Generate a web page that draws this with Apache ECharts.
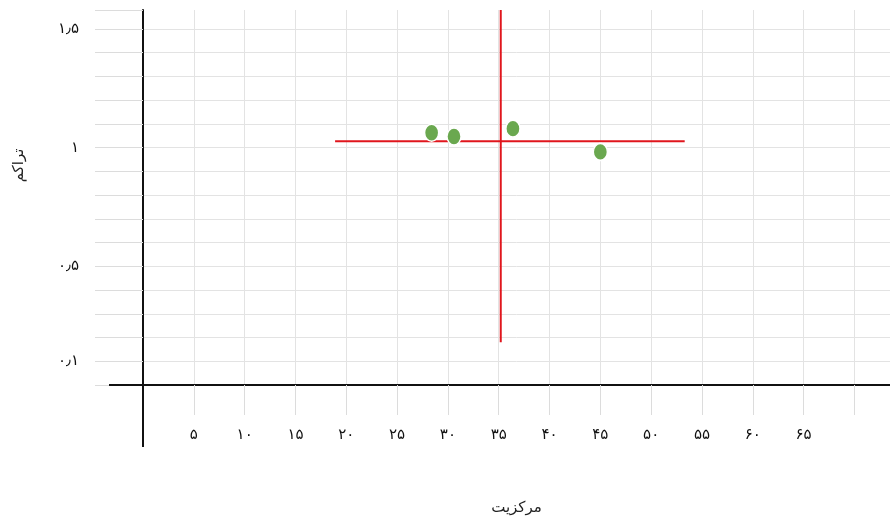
<!DOCTYPE html>
<html>
<head>
<meta charset="utf-8">
<script src="https://cdn.jsdelivr.net/npm/echarts@6/dist/echarts.min.js"></script>
<style>
html, body { margin: 0; padding: 0; background: #fff; }
#chart { width: 890px; height: 524px; }
</style>
</head>
<body>
<div id="chart"></div>
<script>
// نقاط (مرکزیت، تراکم)
var pointsX = [28.4, 30.6, 36.4, 45.0];
var pointsY = [1.063, 1.047, 1.080, 0.982];
// خطوط قرمز میانگین
var crossX = 35.2;
var crossY = 1.027;
var hLineX = [18.9, 53.3];
var vLineY = [0.18, 1.58];
// برچسب محورها
var xLabelValues = [5, 10, 15, 20, 25, 30, 35, 40, 45, 50, 55, 60, 65];
var yLabelValues = [0.1, 0.5, 1, 1.5];

var faDigits = '۰۱۲۳۴۵۶۷۸۹';
function toFa(n) {
	return String(n).replace(/[0-9]/g, function (d) { return faDigits[+d]; }).replace('.', '٫');
}

var scatterData = [];
for (var i = 0; i < pointsX.length; i++) {
	scatterData.push([pointsX[i], pointsY[i]]);
}

var chart = echarts.init(document.getElementById('chart'));
var font = 'DejaVu Sans';
var option = {
	animation: false,
	grid: { left: 143, right: 0, top: 10, bottom: 139, outerBoundsMode: 'none' },
	xAxis: {
		type: 'value',
		min: 0, max: 73.5, interval: 5,
		name: 'مرکزیت',
		nameLocation: 'middle',
		nameGap: 116,
		nameTextStyle: { fontFamily: font, fontSize: 15, color: '#222' },
		axisLine: { lineStyle: { color: '#111', width: 2 } },
		axisTick: { show: true, length: 30, lineStyle: { color: '#dcdcdc' } },
		splitLine: { show: true, showMaxLine: false, lineStyle: { color: '#e3e3e3' } },
		axisLabel: {
			margin: 43, fontFamily: font, fontSize: 15, color: '#111',
			formatter: function (v) {
				return xLabelValues.indexOf(Math.round(v)) >= 0 && Math.abs(v - Math.round(v)) < 1e-6 ? toFa(Math.round(v)) : '';
			}
		}
	},
	yAxis: {
		type: 'value',
		min: 0, max: 1.58, interval: 0.1,
		name: 'تراکم',
		nameLocation: 'middle',
		nameGap: 116,
		nameRotate: 90,
		nameTextStyle: { fontFamily: font, fontSize: 15, color: '#222', padding: [0, 0, 0, 64] },
		axisLine: { lineStyle: { color: '#111', width: 2 } },
		axisTick: { show: true, length: 48, lineStyle: { color: '#dcdcdc' } },
		splitLine: { show: true, showMaxLine: false, lineStyle: { color: '#e3e3e3' } },
		axisLabel: {
			margin: 64, fontFamily: font, fontSize: 15, color: '#111',
			formatter: function (v) {
				var r = Math.round(v * 10) / 10;
				return yLabelValues.indexOf(r) >= 0 && Math.abs(v - r) < 1e-6 ? toFa(r) : '';
			}
		}
	},
	series: [
		{
			type: 'line',
			data: [[hLineX[0], crossY], [hLineX[1], crossY]],
			symbol: 'none',
			lineStyle: { color: '#e0161d', width: 2 },
			z: 3
		},
		{
			type: 'line',
			data: [[crossX, vLineY[0]], [crossX, vLineY[1]]],
			symbol: 'none',
			lineStyle: { color: '#e0161d', width: 2 },
			z: 3
		},
		{
			type: 'scatter',
			data: scatterData,
			symbol: 'circle',
			symbolSize: [14, 17],
			itemStyle: { color: '#6aa84f', borderColor: '#fff', borderWidth: 1.5, opacity: 1 },
			z: 5
		}
	]
};
chart.setOption(option);

// امتداد خطوط محور مانند تصویر
var o = chart.convertToPixel({ gridIndex: 0 }, [0, 0]);
chart.setOption({
	graphic: [
		{ type: 'line', z: 100, shape: { x1: o[0] - 34, y1: o[1], x2: o[0], y2: o[1] }, style: { stroke: '#111', lineWidth: 2 } },
		{ type: 'line', z: 100, shape: { x1: o[0], y1: o[1], x2: o[0], y2: o[1] + 62 }, style: { stroke: '#111', lineWidth: 2 } }
	]
});
</script>
</body>
</html>
